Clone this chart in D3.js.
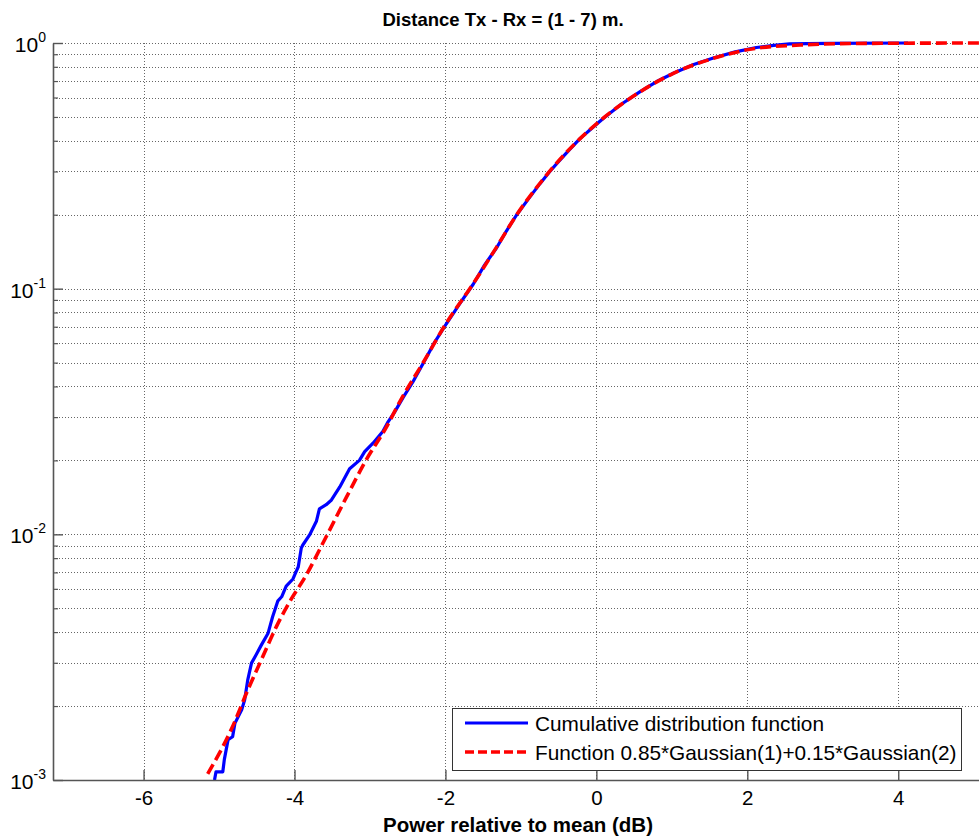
<!DOCTYPE html>
<html>
<head>
<meta charset="utf-8">
<script src="https://cdn.jsdelivr.net/npm/d3@7/dist/d3.min.js"></script>
<style>
  html, body { margin: 0; padding: 0; background: #fff; }
  svg { display: block; font-family: "Liberation Sans", Arial, Helvetica, sans-serif; }
</style>
</head>
<body>
<svg id="chart" width="979" height="838"></svg>
<script>
// Empirical CDF of received power (blue staircase)
const cdfPower = [-5.06, -5.04, -4.95, -4.93, -4.88, -4.82, -4.79, -4.70, -4.66, -4.62,
  -4.57, -4.51, -4.44, -4.35, -4.29, -4.22, -4.17, -4.11, -4.02, -3.98,
  -3.95, -3.91, -3.89, -3.80, -3.71, -3.67, -3.58, -3.51, -3.40, -3.27,
  -3.14, -3.07, -2.96, -2.83, -2.76, -2.67, -2.56, -2.43, -2.30, -2.15,
  -1.99, -1.81, -1.63, -1.48, -1.32, -1.19, -1.06, -0.90, -0.75, -0.62,
  -0.49, -0.35, -0.22, -0.06, 0.09, 0.33, 0.58, 0.80, 1.02, 1.28,
  1.55, 1.84, 2.12, 2.35, 2.56, 2.80, 3.09, 4.13];
const cdfProb = [0.00100, 0.00108, 0.00108, 0.00121, 0.00146, 0.00150, 0.00170, 0.00193, 0.00212, 0.00255,
  0.00299, 0.00323, 0.00354, 0.00396, 0.00462, 0.00536, 0.00557, 0.00616, 0.00658, 0.00703,
  0.00738, 0.00880, 0.00905, 0.00994, 0.0113, 0.0127, 0.0132, 0.0138, 0.0156, 0.0185,
  0.0200, 0.0217, 0.0235, 0.0262, 0.0287, 0.0316, 0.0361, 0.0418, 0.0494, 0.0600,
  0.0718, 0.0870, 0.1045, 0.125, 0.147, 0.172, 0.199, 0.232, 0.267, 0.299,
  0.332, 0.370, 0.407, 0.450, 0.493, 0.563, 0.634, 0.697, 0.753, 0.815,
  0.869, 0.920, 0.959, 0.978, 0.991, 0.995, 0.997, 1.0];

// Fitted mixture model 0.85*Gaussian(1)+0.15*Gaussian(2) (red dashed)
const fitPower = [-5.15, -4.82, -4.62, -4.44, -4.24, -4.04, -3.87, -3.58, -3.31, -3.05,
  -2.78, -2.58, -2.30, -1.99, -1.63, -1.32, -1.06, -0.75, -0.49, -0.22,
  0.09, 0.58, 1.02, 1.55, 2.12, 2.70, 3.36, 5.07];
const fitProb = [0.00106, 0.00165, 0.00232, 0.00308, 0.00421, 0.00547, 0.00662, 0.00978, 0.0142, 0.0201,
  0.0274, 0.0358, 0.0497, 0.0723, 0.105, 0.148, 0.199, 0.268, 0.334, 0.407,
  0.494, 0.633, 0.753, 0.866, 0.952, 0.981, 0.995, 1.0];

const xTicks = [-6, -4, -2, 0, 2, 4];
const yMajorTicks = [1e-3, 1e-2, 1e-1, 1];

const titleText = "Distance Tx - Rx = (1 - 7) m.";
const xLabelText = "Power relative to mean (dB)";
const legendLabels = ["Cumulative distribution function",
                      "Function 0.85*Gaussian(1)+0.15*Gaussian(2)"];

const svg = d3.select("#chart");
const W = 979, H = 838;
const plot = { left: 53, right: 979, top: 43, bottom: 780 };

svg.append("rect").attr("width", W).attr("height", H).attr("fill", "#fff");

const x = d3.scaleLinear().domain([-7.2, 5.07]).range([plot.left, plot.right]);
const y = d3.scaleLog().domain([1e-3, 1]).range([plot.bottom, plot.top]);

const yAllTicks = y.ticks();
const yMinorTicks = yAllTicks.filter(v => !yMajorTicks.some(m => Math.abs(m - v) / m < 1e-9));

// Dotted grid
const grid = svg.append("g").attr("stroke", "#666").attr("stroke-width", 1)
  .attr("stroke-dasharray", "1,2").attr("fill", "none");
grid.selectAll("line.h").data(yAllTicks).join("line")
  .attr("class", "h")
  .attr("x1", plot.left).attr("x2", plot.right)
  .attr("y1", d => Math.round(y(d)) + 0.5).attr("y2", d => Math.round(y(d)) + 0.5);
grid.selectAll("line.v").data(xTicks).join("line")
  .attr("class", "v")
  .attr("y1", plot.top).attr("y2", plot.bottom)
  .attr("x1", d => Math.round(x(d)) + 0.5).attr("x2", d => Math.round(x(d)) + 0.5);

// Curves
svg.append("clipPath").attr("id", "plotClip").append("rect")
  .attr("x", plot.left).attr("y", plot.top - 4)
  .attr("width", plot.right - plot.left).attr("height", plot.bottom - plot.top + 4);

const cdfLine = d3.line()
  .x(d => x(d[0])).y(d => y(d[1]))
  .curve(d3.curveLinear);
const fitLine = d3.line()
  .x(d => x(d[0])).y(d => y(d[1]))
  .curve(d3.curveMonotoneX);

const cdfData = cdfPower.map((p, i) => [p, cdfProb[i]]);
const fitData = fitPower.map((p, i) => [p, fitProb[i]]);

const curves = svg.append("g").attr("clip-path", "url(#plotClip)");
curves.append("path").datum(cdfData)
  .attr("d", cdfLine)
  .attr("fill", "none").attr("stroke", "#0000ff").attr("stroke-width", 3.2)
  .attr("stroke-linejoin", "round");
curves.append("path").datum(fitData)
  .attr("d", fitLine)
  .attr("fill", "none").attr("stroke", "#ff0000").attr("stroke-width", 3.6)
  .attr("stroke-dasharray", "11,5");

// Axes (ticks point inward)
const axisColor = "#555";
const xAxis = svg.append("g").attr("transform", `translate(0,${plot.bottom})`)
  .call(d3.axisBottom(x).tickValues(xTicks).tickSizeInner(-10).tickSizeOuter(0).tickPadding(10)
    .tickFormat(d => String(d)));
xAxis.select(".domain").attr("stroke", axisColor).attr("stroke-width", 1.6);
xAxis.selectAll(".tick line").attr("stroke", axisColor).attr("stroke-width", 1.4);
xAxis.selectAll(".tick text").attr("fill", "#000").attr("font-size", 20.5)
  .attr("font-family", "\"Liberation Sans\", Arial, sans-serif");

const yAxis = svg.append("g").attr("transform", `translate(${plot.left},0)`)
  .call(d3.axisLeft(y).tickValues(yMajorTicks).tickSizeInner(-10).tickSizeOuter(0).tickFormat(""));
yAxis.select(".domain").attr("stroke", axisColor).attr("stroke-width", 1.6);
yAxis.selectAll(".tick line").attr("stroke", axisColor).attr("stroke-width", 1.4);

const yMinor = svg.append("g").attr("transform", `translate(${plot.left},0)`)
  .call(d3.axisLeft(y).tickValues(yMinorTicks).tickSizeInner(-5).tickSizeOuter(0).tickFormat(""));
yMinor.select(".domain").remove();
yMinor.selectAll(".tick line").attr("stroke", axisColor).attr("stroke-width", 1.2);

// Power-of-ten labels on the y axis
const yLab = svg.append("g");
yMajorTicks.forEach(v => {
  const e = Math.round(Math.log10(v));
  const t = yLab.append("text")
    .attr("x", 46).attr("y", y(v) + 9)
    .attr("text-anchor", "end").attr("font-size", 21).attr("fill", "#000");
  t.append("tspan").text("10");
  t.append("tspan").attr("dy", -10).attr("font-size", 14).text(String(e));
});

// Title and x label
svg.append("text").attr("x", 503).attr("y", 26).attr("text-anchor", "middle")
  .attr("font-weight", "bold").attr("font-size", 18.5).attr("fill", "#000")
  .text(titleText);
svg.append("text").attr("x", 518).attr("y", 832).attr("text-anchor", "middle")
  .attr("font-weight", "bold").attr("font-size", 20.5).attr("fill", "#000")
  .text(xLabelText);

// Legend
const leg = svg.append("g");
leg.append("rect").attr("x", 452.5).attr("y", 708.5).attr("width", 509).attr("height", 62)
  .attr("fill", "#fff").attr("stroke", "#333").attr("stroke-width", 1);
const rows = [
  { y: 723, color: "#0000ff", dash: null, w: 3.2 },
  { y: 752, color: "#ff0000", dash: "9,4", w: 3.6 }
];
rows.forEach((r, i) => {
  leg.append("line").attr("x1", 465).attr("x2", 528).attr("y1", r.y).attr("y2", r.y)
    .attr("stroke", r.color).attr("stroke-width", r.w)
    .attr("stroke-dasharray", r.dash);
  leg.append("text").attr("x", 535).attr("y", r.y + 7.5)
    .attr("font-size", 20.8).attr("fill", "#000").text(legendLabels[i]);
});
</script>
</body>
</html>
